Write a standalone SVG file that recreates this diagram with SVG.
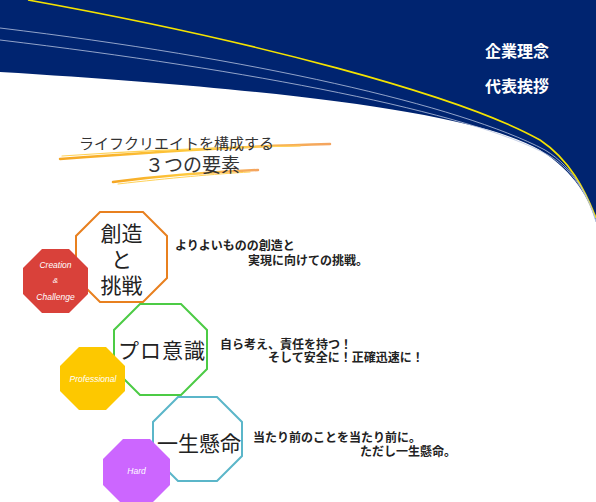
<svg xmlns="http://www.w3.org/2000/svg" width="596" height="502" viewBox="0 0 596 502">
<style>
.jp{font-family:"Noto Sans CJK JP","Noto Sans CJK SC",sans-serif;}
.nav{font-size:16px;font-weight:bold;fill:#fff;}
.big{font-size:21px;fill:#222;}
.desc{font-size:12px;font-weight:bold;fill:#222;}
.en{font-family:"Liberation Sans",sans-serif;font-style:italic;fill:#fff;}
.oct{fill:#fff;stroke-width:2;}
</style>
<defs>
<linearGradient id="brush" x1="0" y1="0" x2="1" y2="0">
<stop offset="0" stop-color="#f5a623"/>
<stop offset="0.5" stop-color="#ffc93c"/>
<stop offset="1" stop-color="#f4a460"/>
</linearGradient>
</defs>
<g id="header">
<path d="M0,0 H596 V222 C590,200 575,172 540,150 C480,115 300,90 0,72 Z" fill="#002470"/>
<path d="M28,0 C250,40 460,95 540,140 C570,160 585,190 596,218" fill="none" stroke="#f4e300" stroke-width="1.6"/>
<path d="M0,28 C250,58 460,105 545,150 C575,168 590,200 596,221" fill="none" stroke="#b8c4e0" stroke-width="0.8"/>
<path d="M0,40 C250,70 470,112 548,155 C577,172 590,202 596,222" fill="none" stroke="#b8c4e0" stroke-width="0.8"/>
<text class="jp nav" x="485" y="57">企業理念</text>
<text class="jp nav" x="485" y="92">代表挨拶</text>
</g>
<g id="title">
<path d="M60,159 C150,152 250,146 330,144" fill="none" stroke="url(#brush)" stroke-width="2.5" stroke-linecap="round"/>
<path d="M62,156 C150,150 240,147 300,146" fill="none" stroke="#ffd257" stroke-width="1.2" stroke-linecap="round"/>
<path d="M113,182 C160,176 210,172 258,170" fill="none" stroke="url(#brush)" stroke-width="2.5" stroke-linecap="round"/>
<path d="M118,184 C170,178 215,174 250,172" fill="none" stroke="#ffd257" stroke-width="1" stroke-linecap="round"/>
<text class="jp" x="79" y="149" font-size="15" fill="#333">ライフクリエイトを構成する</text>
<text class="jp" x="145" y="172" font-size="19" fill="#333">３つの要素</text>
</g>
<g id="node-souzou">
<polygon class="oct" stroke="#e8801f" points="100,212 143,212 167,236 167,278 143,302 100,302 76,278 76,236"/>
<text class="jp big" x="121.5" y="241" text-anchor="middle">創造</text>
<text class="jp big" x="121.5" y="267" text-anchor="middle">と</text>
<text class="jp big" x="121.5" y="293" text-anchor="middle">挑戦</text>
</g>
<g id="node-creation">
<polygon fill="#d9413a" points="42,249 69,249 88,268 88,294 69,313 42,313 23,294 23,268"/>
<text class="en" x="55.5" y="268" font-size="8.5" text-anchor="middle">Creation</text>
<text class="en" x="55.5" y="283" font-size="8" text-anchor="middle">&amp;</text>
<text class="en" x="55.5" y="300" font-size="8.5" text-anchor="middle">Challenge</text>
</g>
<g id="desc-souzou">
<text class="jp desc" x="175" y="250">よりよいものの創造と</text>
<text class="jp desc" x="248" y="265">実現に向けての挑戦。</text>
</g>
<g id="node-pro">
<polygon class="oct" stroke="#4ccb45" points="140,304 181,304 207,330 207,369 181,395 140,395 114,369 114,330"/>
<text class="jp big" x="118" y="358" font-size="21" letter-spacing="1">プロ意識</text>
</g>
<g id="node-professional">
<polygon fill="#fdc800" points="79,347 106,347 125,366 125,391 106,410 79,410 60,391 60,366"/>
<text class="en" x="93" y="382" font-size="8.5" text-anchor="middle">Professional</text>
</g>
<g id="desc-pro">
<text class="jp desc" x="220" y="349">自ら考え、責任を持つ！</text>
<text class="jp desc" x="268" y="362">そして安全に！正確迅速に！</text>
</g>
<g id="node-isshou">
<polygon class="oct" stroke="#5bb6c9" points="178,397 217,397 242,422 242,456 217,481 178,481 153,456 153,422"/>
<text class="jp big" x="157" y="451" font-size="20.5">一生懸命</text>
</g>
<g id="node-hard">
<polygon fill="#cc66ff" points="123,439 150,439 170,459 170,485 150,505 123,505 103,485 103,459"/>
<text class="en" x="136.5" y="474" font-size="8.5" text-anchor="middle">Hard</text>
</g>
<g id="desc-isshou">
<text class="jp desc" x="253" y="442">当たり前のことを当たり前に。</text>
<text class="jp desc" x="360" y="456">ただし一生懸命。</text>
</g>
<g id="connectors"></g>
</svg>
